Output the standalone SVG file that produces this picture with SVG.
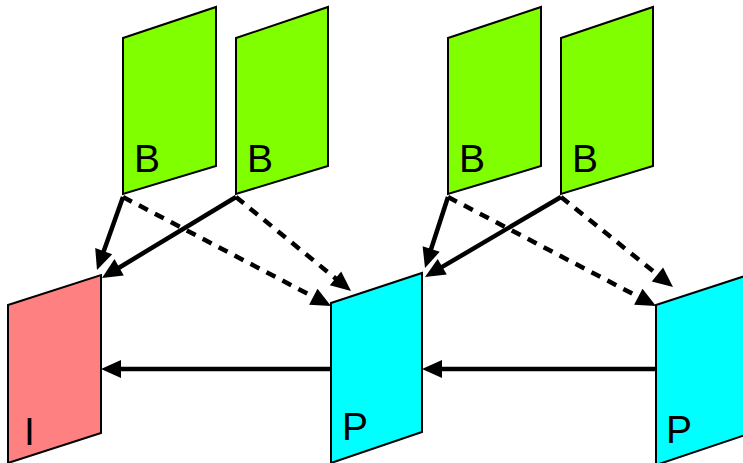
<svg xmlns="http://www.w3.org/2000/svg" width="743" height="463" viewBox="0 0 743 463">
<defs>
<style>
.n{stroke:#000;stroke-width:2;stroke-linejoin:miter}
.b{fill:#80ff00}.i{fill:#ff8080}.p{fill:#00ffff}
.t{font-family:"Liberation Sans",Arial,sans-serif;font-size:39px;fill:#000}
.c{stroke:#000;stroke-width:4.5;fill:none}
.d{stroke-dasharray:10 8}
.h{fill:#000;stroke:none}
</style>
</defs>
<g id="B1"><polygon class="n b" points="123,38 216,7 216,166 123,194"/><text class="t" x="134" y="172">B</text></g>
<g id="B2"><polygon class="n b" points="236,38 328,7 328,166 236,194"/><text class="t" x="247" y="172">B</text></g>
<g id="B3"><polygon class="n b" points="448,38 541,7 541,166 448,194"/><text class="t" x="459" y="172">B</text></g>
<g id="B4"><polygon class="n b" points="561,38 653,7 653,166 561,194"/><text class="t" x="572" y="172">B</text></g>
<g id="I"><polygon class="n i" points="8,305 101,275 101,433 8,463"/><text class="t" x="24" y="445">I</text></g>
<g id="P1"><polygon class="n p" points="331,303 422,273 422,432 331,463"/><text class="t" x="342" y="440">P</text></g>
<g id="P2"><polygon class="n p" points="656,305 748,275 748,434 656,465"/><text class="t" x="666" y="443">P</text></g>
<g id="connectors">
<line class="c" x1="123" y1="197" x2="102.4" y2="254.9"/>
<polygon class="h" points="97,270 112.2,254.2 95.2,248.1"/>
<line class="c" x1="236" y1="197" x2="115.7" y2="269.7"/>
<polygon class="h" points="102,278 123.8,275.4 114.5,259"/>
<line class="c d" x1="123" y1="197" x2="316.8" y2="298.6"/>
<polygon class="h" points="331,306 309.1,304.7 317.5,288.7"/>
<line class="c d" x1="236" y1="197" x2="338.6" y2="280.9"/>
<polygon class="h" points="351,291 329.8,285.3 341.2,271.4"/>
<line class="c" x1="448" y1="197" x2="429.9" y2="252.8"/>
<polygon class="h" points="425,268 439.7,251.8 422.6,246.2"/>
<line class="c" x1="561" y1="197" x2="438.8" y2="268.9"/>
<polygon class="h" points="425,277 446.8,274.6 437.7,259.1"/>
<line class="c d" x1="448" y1="197" x2="641.8" y2="298.6"/>
<polygon class="h" points="656,306 634.1,304.7 642.5,288.7"/>
<line class="c d" x1="561" y1="197" x2="660.5" y2="277"/>
<polygon class="h" points="673,287 651.8,281.5 663.1,267.5"/>
<line class="c" x1="331" y1="369" x2="117" y2="369"/>
<polygon class="h" points="101,369 121,378 121,360"/>
<line class="c" x1="656" y1="369" x2="438" y2="369"/>
<polygon class="h" points="422,369 442,378 442,360"/>
</g>
</svg>
